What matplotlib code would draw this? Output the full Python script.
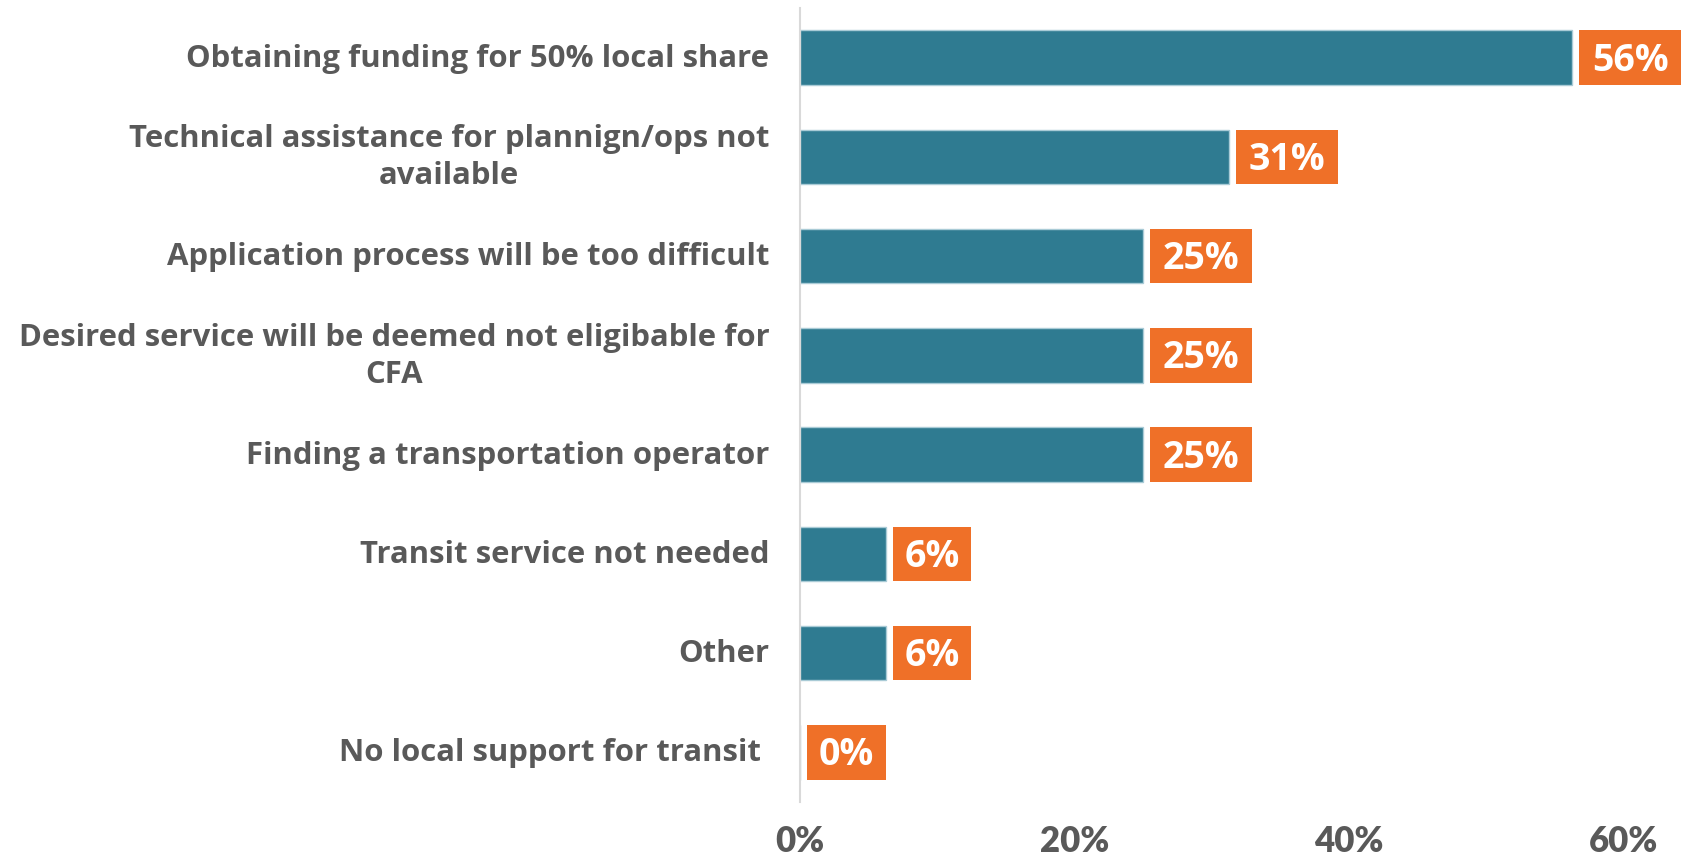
import matplotlib
matplotlib.use("Agg")
import matplotlib.pyplot as plt
from matplotlib.ticker import FuncFormatter

# survey responses, top to bottom
categories = [
    "Obtaining funding for 50% local share",
    "Technical assistance for plannign/ops not\navailable",
    "Application process will be too difficult",
    "Desired service will be deemed not eligibable for\nCFA",
    "Finding a transportation operator",
    "Transit service not needed",
    "Other",
    "No local support for transit ",
]
shares = [56.25, 31.25, 25.0, 25.0, 25.0, 6.25, 6.25, 0.0]
x_ticks = [0, 20, 40, 60]

teal = "#2F7B91"
orange = "#EF7028"
grey = "#595959"

plt.rcParams["font.family"] = ["Open Sans", "DejaVu Sans"]
plt.rcParams["font.weight"] = "bold"

fig = plt.figure(figsize=(16.91, 8.62), dpi=100)
ax = fig.add_axes([0.473, 0.0684, 0.4872, 0.9212])

pos = list(range(len(categories)))
ax.barh(pos, shares, height=0.55, color=teal, edgecolor="#A9CBD6", linewidth=1)

# orange label boxes next to each bar
for y, v in zip(pos, shares):
    label = f"{v:.0f}%"
    w = 7.45 if len(label) > 2 else 5.75
    left = v + 0.5
    ax.barh(y, w, left=left, height=0.55, color=orange, linewidth=0, clip_on=False)
    ax.text(left + w / 2, y + 0.02, label, color="white", fontsize=27, fontweight="bold",
            ha="center", va="center", clip_on=False)

ax.set_xlim(0, 60)
ax.set_ylim(7.5, -0.5)
ax.set_xticks(x_ticks)
ax.xaxis.set_major_formatter(FuncFormatter(lambda v, p: f"{v:.0f}%"))
ax.set_yticks(pos)
ax.set_yticklabels(categories, multialignment="center", linespacing=1.3, va="center")

ax.tick_params(axis="y", length=0, pad=22, labelsize=22.4, labelcolor=grey)
ax.tick_params(axis="x", length=0, pad=16, labelsize=25, labelcolor=grey)
for t in ax.get_xticklabels():
    t.set_family(["Lato", "DejaVu Sans"])
    t.set_fontweight("heavy")

for s in ["top", "right", "bottom"]:
    ax.spines[s].set_visible(False)
ax.spines["left"].set_color("#D9D9D9")
ax.spines["left"].set_linewidth(1.5)

fig.savefig("out.png", dpi=100)
